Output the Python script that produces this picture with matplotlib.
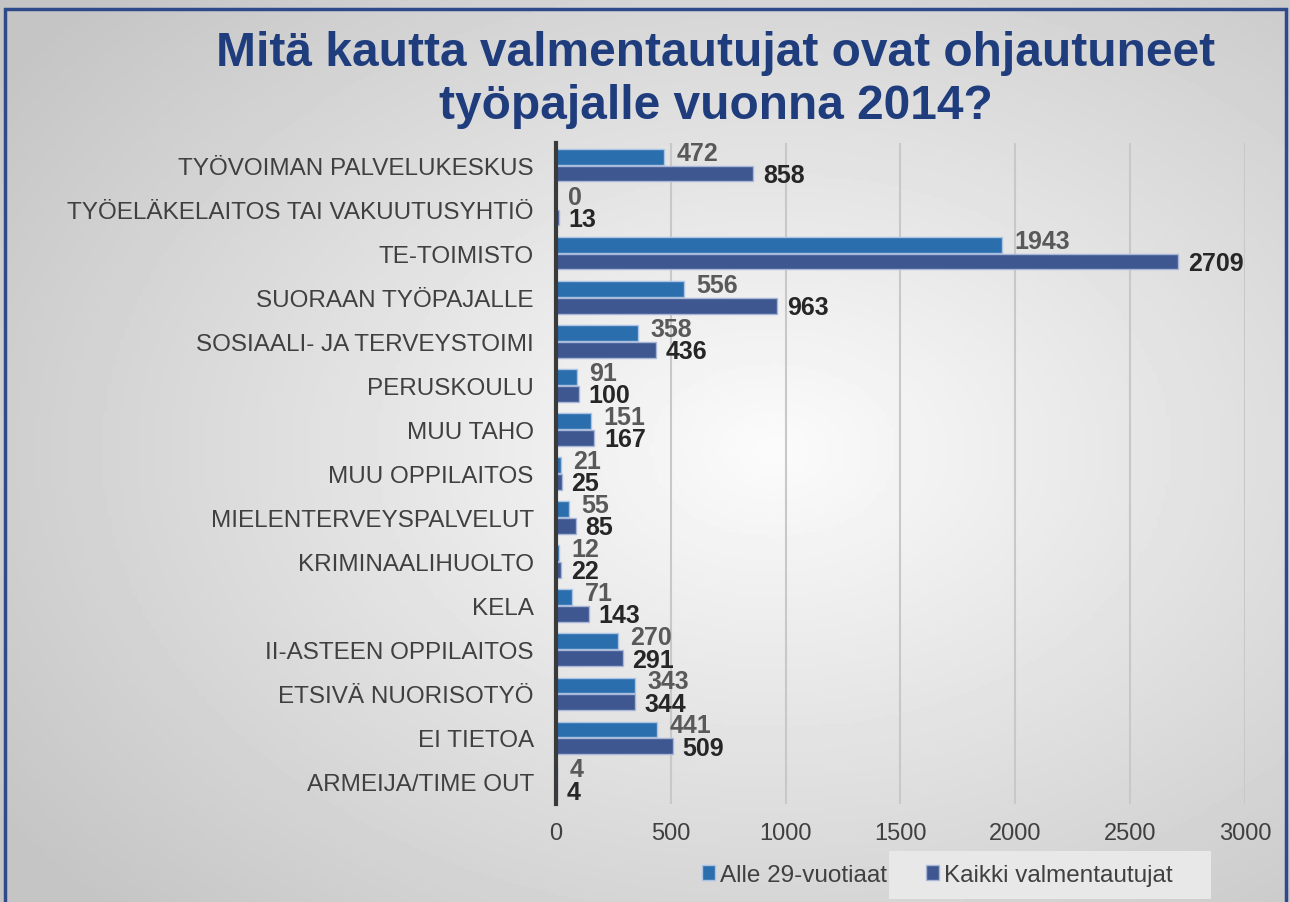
import numpy as np
import matplotlib
matplotlib.use("Agg")
import matplotlib.pyplot as plt
from matplotlib.patches import Rectangle

plt.rcParams['font.family'] = ['Liberation Sans', 'DejaVu Sans']

# data
categories = ["TYÖVOIMAN PALVELUKESKUS", "TYÖELÄKELAITOS TAI VAKUUTUSYHTIÖ",
              "TE-TOIMISTO", "SUORAAN TYÖPAJALLE", "SOSIAALI- JA TERVEYSTOIMI",
              "PERUSKOULU", "MUU TAHO", "MUU OPPILAITOS", "MIELENTERVEYSPALVELUT",
              "KRIMINAALIHUOLTO", "KELA", "II-ASTEEN OPPILAITOS",
              "ETSIVÄ NUORISOTYÖ", "EI TIETOA", "ARMEIJA/TIME OUT"]
alle29 = [472, 0, 1943, 556, 358, 91, 151, 21, 55, 12, 71, 270, 343, 441, 4]
kaikki = [858, 13, 2709, 963, 436, 100, 167, 25, 85, 22, 143, 291, 344, 509, 4]
series_names = ["Alle 29-vuotiaat", "Kaikki valmentautujat"]
xticks = [0, 500, 1000, 1500, 2000, 2500, 3000]

c_alle = "#2B6EAD"
c_kaikki = "#3E5790"
txt = "#404040"

fig = plt.figure(figsize=(12.9, 9.03), dpi=100)

# radial grey background
bg = fig.add_axes([0, 0, 1, 1], zorder=-10)
xx, yy = np.meshgrid(np.linspace(0, 1, 300), np.linspace(0, 1, 300))
r = np.sqrt(((xx - 0.6) / 0.75) ** 2 + ((yy - 0.5) / 0.75) ** 2)
g = np.clip(0.985 - 0.22 * r, 0.77, 1.0)
bg.imshow(g, cmap="gray", vmin=0, vmax=1, extent=[0, 1, 0, 1], aspect="auto", origin="lower")
bg.set_axis_off()
fig.patches.append(Rectangle((5 / 1290, -0.05), 1281 / 1290, 1.05 - 10 / 903,
                             transform=fig.transFigure, fill=False,
                             edgecolor="#2E4A8A", linewidth=2.5, zorder=5))

ax = fig.add_axes([0.431, 0.1085, 0.5341, 0.732])
ax.set_facecolor("none")
y = np.arange(len(categories))
h = 0.36
ax.barh(y - 0.19, alle29, height=h, color=c_alle, edgecolor="#A9C4E4", linewidth=1, zorder=3,
        label=series_names[0])
ax.barh(y + 0.19, kaikki, height=h, color=c_kaikki, edgecolor="#A9B6D8", linewidth=1, zorder=3,
        label=series_names[1])

for i in range(len(categories)):
    ax.annotate(str(alle29[i]), (alle29[i], y[i] - 0.19), xytext=(9, 3), textcoords="offset points",
                va="center", ha="left", fontsize=18, fontweight="bold", color="#595959", zorder=4)
    ax.annotate(str(kaikki[i]), (kaikki[i], y[i] + 0.19), xytext=(7, -1), textcoords="offset points",
                va="center", ha="left", fontsize=18, fontweight="bold", color="#262626", zorder=4)

ax.set_ylim(len(categories) - 0.5, -0.5)
ax.set_xlim(0, 3000)
ax.set_yticks(y)
ax.set_yticklabels(categories, fontsize=17.5, color=txt)
ax.set_xticks(xticks)
ax.set_xticklabels([str(t) for t in xticks], fontsize=17, color=txt)
ax.tick_params(axis="y", length=0, pad=16)
ax.tick_params(axis="x", length=0, pad=13)
ax.grid(axis="x", color="#C8C8C8", linewidth=1.5, zorder=0)
for s in ["top", "right", "bottom"]:
    ax.spines[s].set_visible(False)
ax.spines["left"].set_color("#3A3A3A")
ax.spines["left"].set_linewidth(3)
ax.spines["left"].set_zorder(5)

fig.patches.append(Rectangle((889 / 1290, 1 - 900 / 903), 322 / 1290, 48 / 903,
                             transform=fig.transFigure, facecolor="#E8E8E8",
                             edgecolor="none", zorder=0))
leg = fig.legend(loc="center", bbox_to_anchor=(937 / 1290, 1 - 876 / 903), ncol=2,
                 frameon=False, fontsize=17.5, handlelength=0.55, handleheight=0.55,
                 handletextpad=0.2, columnspacing=1.6)
for t in leg.get_texts():
    t.set_color(txt)

fig.text(716 / 1290, 1 - 80 / 903, "Mitä kautta valmentautujat ovat ohjautuneet\ntyöpajalle vuonna 2014?",
         ha="center", va="center", fontsize=34.5, fontweight="bold", color="#1F3C7D", linespacing=1.22)

fig.savefig("out.png", dpi=100)
